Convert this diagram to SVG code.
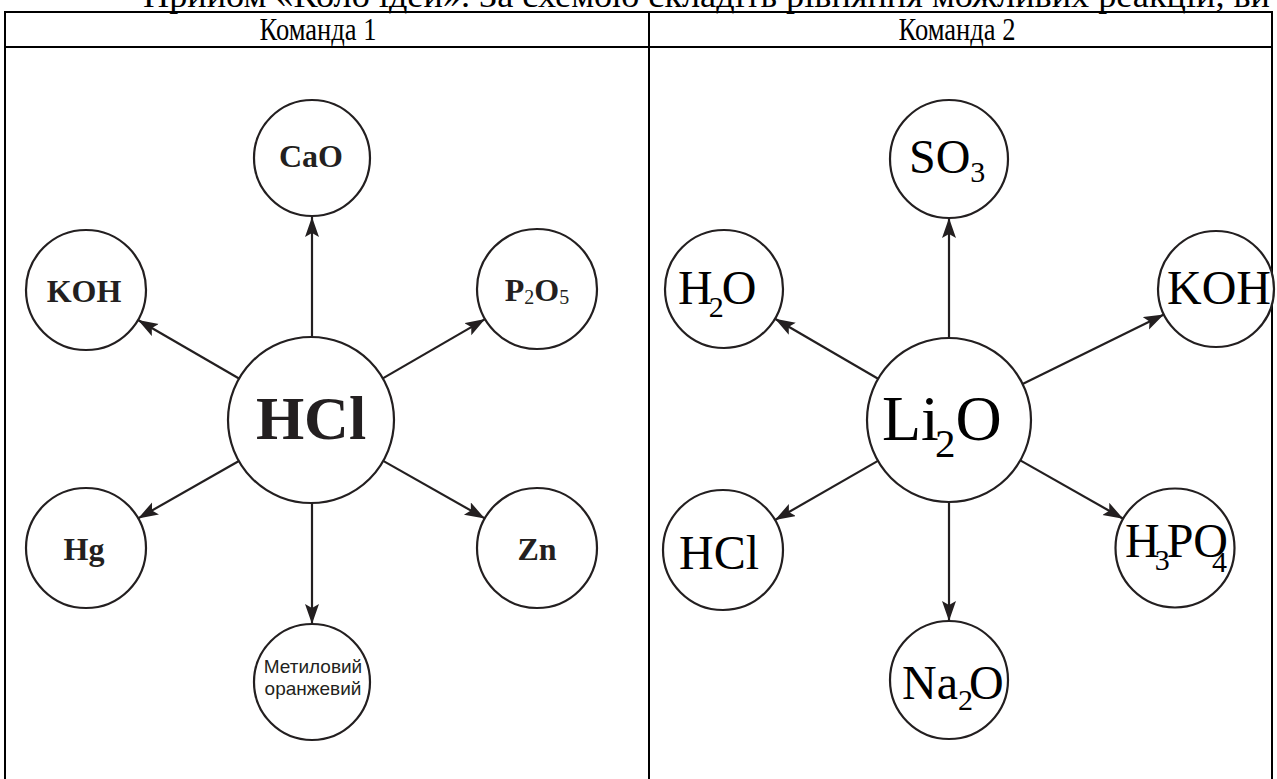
<svg xmlns="http://www.w3.org/2000/svg" width="1277" height="779" viewBox="0 0 1277 779">
<style>
.tbl{stroke:#000;stroke-width:2;fill:none}
.node circle{fill:#fff;stroke:#231f20;stroke-width:2.2}
.hdr{font-family:"Liberation Serif","Times New Roman",serif;font-size:32px;fill:#000;text-anchor:middle}
.b{font-family:"Liberation Serif","Times New Roman",serif;font-weight:bold;fill:#231f20}
.r{font-family:"Liberation Serif","Times New Roman",serif;fill:#000}
.s{font-family:"Liberation Sans",Arial,sans-serif;font-size:19px;fill:#231f20;text-anchor:middle}
#connectors line{stroke:#231f20;stroke-width:2.2;marker-end:url(#ah)}
</style>
<defs>
<marker id="ah" markerUnits="userSpaceOnUse" markerWidth="22" markerHeight="16" refX="20" refY="7" orient="auto">
<path d="M0,0 L20,7 L0,14 L4,7 Z" fill="#231f20"/>
</marker>
</defs>
<rect width="1277" height="779" fill="#fff"/>
<text x="143" y="7" class="r" font-size="33" textLength="1127" lengthAdjust="spacingAndGlyphs">Прийом «Коло ідей». За схемою складіть рівняння можливих реакцій, ви</text>
<g id="table">
<line class="tbl" x1="5" y1="12" x2="1272" y2="12"/>
<line class="tbl" x1="5" y1="47" x2="1272" y2="47"/>
<line class="tbl" x1="5" y1="11" x2="5" y2="790"/>
<line class="tbl" x1="649" y1="11" x2="649" y2="790"/>
<line class="tbl" x1="1272" y1="11" x2="1272" y2="790"/>
<text class="hdr" transform="translate(318,40) scale(0.83,1)">Команда 1</text>
<text class="hdr" transform="translate(957,40) scale(0.83,1)">Команда 2</text>
</g>
<g id="connectors">
<line x1="312" y1="337" x2="312" y2="217"/>
<line x1="312" y1="503" x2="312" y2="624"/>
<line x1="239" y1="378.5" x2="138" y2="320"/>
<line x1="382.8" y1="378.4" x2="485.1" y2="319.1"/>
<line x1="238.9" y1="461" x2="138.1" y2="518.4"/>
<line x1="383.2" y1="460.9" x2="484.8" y2="518.4"/>
<line x1="949" y1="338" x2="949" y2="218"/>
<line x1="949" y1="502" x2="949" y2="621"/>
<line x1="878.1" y1="378.8" x2="775" y2="318.7"/>
<line x1="1022.6" y1="383.9" x2="1163.9" y2="314.5"/>
<line x1="877.9" y1="460.9" x2="775" y2="520"/>
<line x1="1020.3" y1="460.4" x2="1123.2" y2="518.7"/>
</g>
<g id="n-hcl-center" class="node"><circle cx="311" cy="420" r="83"/><text class="b" x="311" y="439" font-size="62" text-anchor="middle">HCl</text></g>
<g id="n-cao" class="node"><circle cx="312" cy="158" r="58"/><text class="b" x="311" y="167" font-size="32" text-anchor="middle">CaO</text></g>
<g id="n-koh-1" class="node"><circle cx="86" cy="290" r="60"/><text class="b" x="84" y="302" font-size="32" text-anchor="middle">KOH</text></g>
<g id="n-p2o5" class="node"><circle cx="537" cy="289" r="60"/><text class="b" x="537" y="301" font-size="32" text-anchor="middle">P<tspan font-size="20" font-weight="normal" dy="3">2</tspan><tspan dy="-3">O</tspan><tspan font-size="20" font-weight="normal" dy="3">5</tspan></text></g>
<g id="n-hg" class="node"><circle cx="86" cy="548" r="60"/><text class="b" x="84" y="560" font-size="32" text-anchor="middle">Hg</text></g>
<g id="n-zn" class="node"><circle cx="537" cy="548" r="60"/><text class="b" x="537" y="560" font-size="32" text-anchor="middle">Zn</text></g>
<g id="n-methyl" class="node"><circle cx="312" cy="682" r="58"/><text class="s" x="313" y="673">Метиловий</text><text class="s" x="313" y="695">оранжевий</text></g>
<g id="n-li2o" class="node"><circle cx="949" cy="420" r="82"/><text class="r" x="882" y="440" font-size="64">Li<tspan font-size="41" dx="-4" dy="17">2</tspan><tspan dy="-17">O</tspan></text></g>
<g id="n-so3" class="node"><circle cx="949" cy="159" r="59"/><text class="r" x="909" y="173" font-size="48">SO<tspan font-size="30" dy="9">3</tspan></text></g>
<g id="n-h2o" class="node"><circle cx="724" cy="289" r="59"/><text class="r" x="678" y="304" font-size="48">H<tspan font-size="30" dx="-4" dy="13">2</tspan><tspan dx="-2" dy="-13">O</tspan></text></g>
<g id="n-koh-2" class="node"><circle cx="1216" cy="289" r="58"/><text class="r" x="1219" y="304" font-size="48" text-anchor="middle">KOH</text></g>
<g id="n-hcl-2" class="node"><circle cx="723" cy="550" r="60"/><text class="r" x="679" y="569" font-size="48">HCl</text></g>
<g id="n-h3po4" class="node"><circle cx="1175" cy="548" r="59.5"/><text class="r" x="1125" y="557" font-size="48">H<tspan font-size="30" dx="-5" dy="13">3</tspan><tspan dx="-3" dy="-13">PO</tspan><tspan font-size="30" dx="-16" dy="15">4</tspan></text></g>
<g id="n-na2o" class="node"><circle cx="949" cy="680" r="59"/><text class="r" x="902" y="699" font-size="48">Na<tspan font-size="30" dy="11">2</tspan><tspan dx="-4" dy="-11">O</tspan></text></g>
</svg>
